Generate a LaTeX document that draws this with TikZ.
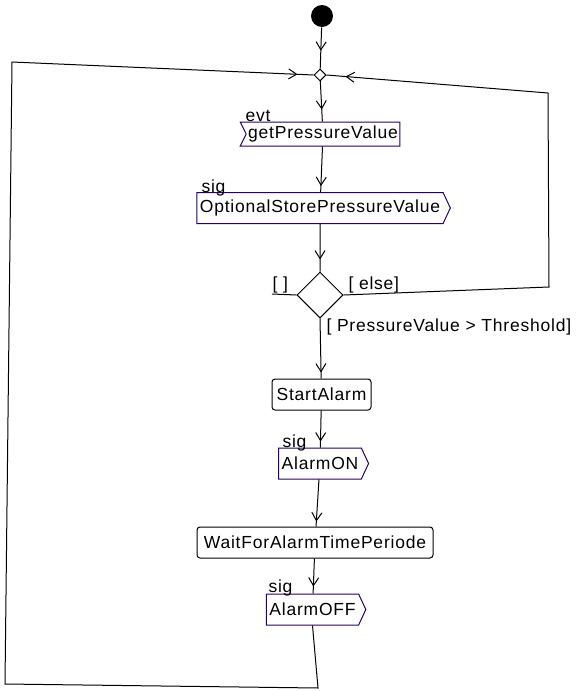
\documentclass[tikz,border=0pt]{standalone}
\usepackage{fontspec}
\setmainfont{Liberation Sans}[LetterSpace=4.5]
\usetikzlibrary{shapes.geometric,shapes.symbols,arrows.meta,decorations.markings}

\definecolor{sigline}{RGB}{40,0,100}

\begin{document}
\begin{tikzpicture}[
        x = 1pt, y = -1pt,
        line width = 1pt,
        every node/.style = {font = \fontsize{17.5}{20}\selectfont},
        action/.style = {draw, rounded corners = 3pt, minimum height = 31pt, inner sep = 3pt},
        sendsig/.style = {draw = sigline, signal, signal to = east, signal pointer angle = 130,
                minimum height = 31pt, inner sep = 3pt},
        acceptevt/.style = {draw = sigline, signal, signal to = nowhere, signal from = west,
                signal pointer angle = 127, minimum height = 24pt, inner sep = 2pt},
        startdot/.style = {circle, fill, minimum size = 22pt, inner sep = 0pt},
        merge/.style = {diamond, draw, minimum size = 12pt, inner sep = 0pt},
        decision/.style = {diamond, draw, minimum size = 46pt, inner sep = 0pt},
        tag/.style = {anchor = base west, inner sep = 0pt},
        flow/.style = {postaction = {decorate},
                decoration = {markings, mark = at position -#1 with
                        {\arrow{Straight Barb[length = 8pt, width = 10pt]}}}},
        flow/.default = 8pt
    ]

    \useasboundingbox (0,0) rectangle (576,691);

    % activity nodes
    \node[startdot] (init) at (322,16) {};
    \node[merge] (join) at (320,75) {};
    \node[acceptevt, minimum width = 158pt] (getval) at (323,134) {getPressureValue};
    \node[sendsig, minimum width = 250pt] (store) at (320,208) {OptionalStorePressureValue};
    \node[decision] (check) at (320,295) {};
    \node[action, minimum width = 99pt] (alarm) at (321.5,394.5) {StartAlarm};
    \node[sendsig, minimum width = 86pt] (alarmon) at (320,463.5) {AlarmON};
    \node[action, minimum width = 236pt] (wait) at (315,542.5) {WaitForAlarmTimePeriode};
    \node[sendsig, minimum width = 99pt] (alarmoff) at (312.5,609.5) {AlarmOFF};

    % stereotype and guard labels
    \node[tag] (evtlbl) at (245,121) {evt};
    \node[tag] (siglbl1) at (201,192) {sig};
    \node[tag] (siglbl2) at (282,447) {sig};
    \node[tag] (siglbl3) at (268,592) {sig};
    \node[tag] (guardnone) at (272,289) {[ ]};
    \node[tag] (guardelse) at (348,289) {[ else]};
    \node[tag] (guardhigh) at (326,331) {[ PressureValue > Threshold]};

    % loop corners
    \coordinate (stub) at (272,294);
    \coordinate (lb) at (318,688);
    \coordinate (ll) at (5,684);
    \coordinate (lt) at (12,62);
    \coordinate (rb) at (549,287);
    \coordinate (rt) at (548,93);

    % control flow
    \draw[flow=18pt] (init) -- (join);
    \draw[flow=12pt] (join) -- (getval);
    \draw[flow=6pt] (getval) -- (store);
    \draw[flow=12pt] (store) -- (check);
    \draw (check.west) -- (stub);
    \draw[flow=19pt] (check.east) -- (rb) -- (rt) -- (join.east);
    \draw[flow=6pt] (check.south) -- (alarm);
    \draw[flow=6pt] (alarm) -- (alarmon);
    \draw[flow=5pt] (alarmon) -- (wait);
    \draw[flow=7pt] (wait) -- (alarmoff);
    \draw[flow=16pt] (alarmoff.south) -- (lb) -- (ll) -- (lt) -- (join.west);

\end{tikzpicture}
\end{document}
